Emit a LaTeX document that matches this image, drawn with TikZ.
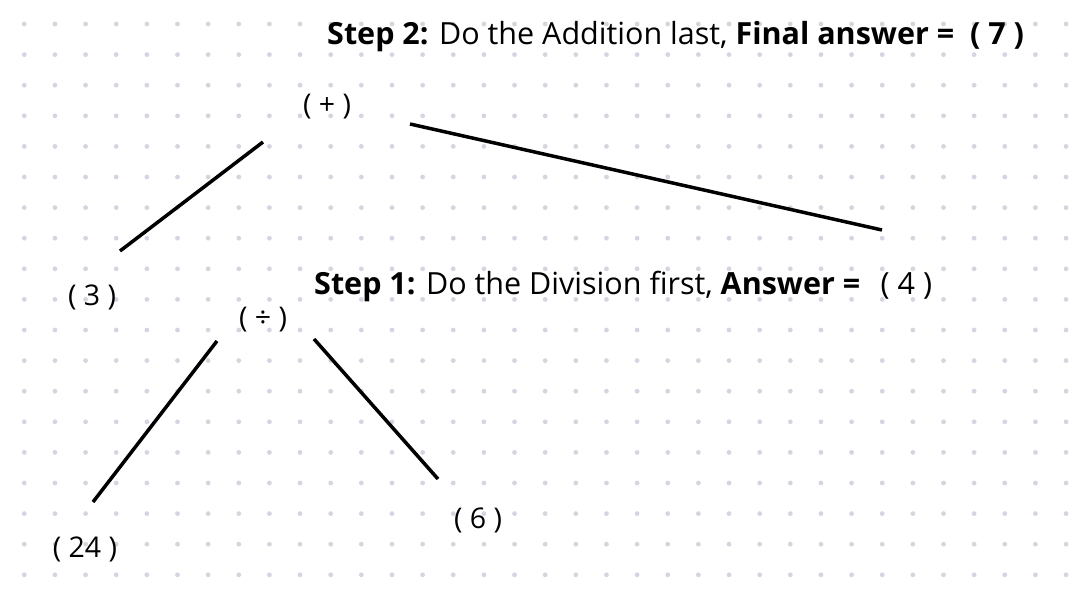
\documentclass[tikz,border=0pt]{standalone}
\usepackage{fontspec}
\setmainfont{Open Sans}
\definecolor{dotgrey}{HTML}{D3D6DF}
\begin{document}
\begin{tikzpicture}[x=1pt,y=-1pt,
  lbl/.style={font=\fontsize{28.5}{34}\selectfont,inner sep=0pt},
  steptext/.style={font=\fontsize{30.5}{36}\selectfont,inner sep=0pt,anchor=base west},
  branch/.style={line width=3.5pt,black}]

\useasboundingbox (0,0) rectangle (1072,594);

%dot grid in the background
\foreach \i in {0,...,34}
  \foreach \j in {0,...,18}
    \fill[dotgrey] (24.3+30.64*\i,24+30.6*\j) circle (2.4pt);

%steps written above each operation
\node[steptext] (step2) at (327,45) {\textbf{Step 2:} Do the Addition last, \textbf{Final answer =\ \ ( 7 )}};
\node[steptext] (step1) at (314,294) {\textbf{Step 1:} Do the Division first, \textbf{Answer =}};
\node[steptext,xshift=20] (four) at (step1.base east) {( 4 )};

%operators and numbers of the tree
\node[lbl] (plus) at (327,107) {( + )};
\node[lbl] (three) at (92,297) {( 3 )};
\node[lbl] (div) at (263,320) {( \textdiv{} )};
\node[lbl] (twentyfour) at (85,549) {( 24 )};
\node[lbl] (six) at (478,520) {( 6 )};

%ends of the branches
\coordinate (plus-l) at (263,142);
\coordinate (plus-r) at (410,124);
\coordinate (three-t) at (120,251);
\coordinate (four-t) at (882,230);
\coordinate (div-l) at (217,341);
\coordinate (div-r) at (314,339);
\coordinate (twentyfour-t) at (93,502);
\coordinate (six-t) at (438,479);

%draw the branches
\draw[branch] (plus-l) -- (three-t);
\draw[branch] (plus-r) -- (four-t);
\draw[branch] (div-l) -- (twentyfour-t);
\draw[branch] (div-r) -- (six-t);
\end{tikzpicture}
\end{document}
